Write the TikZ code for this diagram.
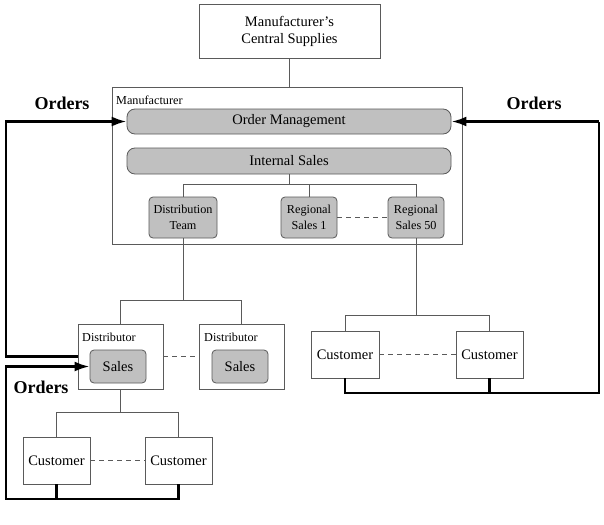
\documentclass[tikz,border=0pt]{standalone}
\usepackage{fontspec}
\setmainfont{Liberation Serif}
\usetikzlibrary{arrows.meta}
\definecolor{lc}{HTML}{5A5A5A}
\definecolor{gf}{HTML}{C0C0C0}
\begin{document}
\begin{tikzpicture}[x=1pt,y=-1pt,
  thinline/.style={draw=lc,line width=0.8pt},
  wbox/.style={thinline,fill=white,inner sep=0pt,align=center},
  gbox/.style={thinline,fill=gf,rounded corners=4pt,inner sep=0pt,align=center},
  bar/.style={thinline,fill=gf,rounded corners=8pt,inner sep=0pt,minimum width=324pt,minimum height=25pt,font=\fontsize{14.5}{16}\selectfont},
  small/.style={font=\fontsize{12.2}{15.5}\selectfont},
  big/.style={font=\fontsize{14.5}{17}\selectfont},
  dashline/.style={draw=lc,line width=0.8pt,dashed,dash pattern=on 5pt off 4pt},
  order/.style={draw=black,line width=2.6pt},
  tip/.style={-{Latex[length=15pt,width=10pt]}},
  olabel/.style={font=\fontsize{18}{20}\selectfont\bfseries,anchor=base}
]
\useasboundingbox (0,0) rectangle (604,524);

% top box
\node[wbox,big,minimum width=181pt,minimum height=54pt] (cs) at (289.5,31) {Manufacturer{\char"0027}s\\Central Supplies};

% manufacturer container
\node[wbox,minimum width=350pt,minimum height=157pt] (mfr) at (287,165.5) {};
\node[small,anchor=base west,inner sep=0pt] (mfrlbl) at (116,104) {Manufacturer};

\node[bar] (om) at (289,121.5) {Order Management};
\node[bar,minimum height=26pt] (is) at (289,161) {Internal Sales};

\node[gbox,small,minimum width=68pt,minimum height=41pt] (dt) at (183,217.5) {Distribution\\Team};
\node[gbox,small,minimum width=56pt,minimum height=41pt] (rs1) at (309,217.5) {Regional\\Sales 1};
\node[gbox,small,minimum width=56pt,minimum height=41pt] (rs50) at (416,217.5) {Regional\\Sales 50};

\coordinate (j1) at (290,184);
\draw[thinline] (cs.south) -- (cs.south |- mfr.north);
\draw[thinline] (is.south) -- (is.south |- j1);
\draw[thinline] (dt.north) -- (dt.north |- j1) -- (rs50.north |- j1) -- (rs50.north);
\draw[thinline] (rs1.north) -- (rs1.north |- j1);
\draw[dashline] (rs1.east) -- (rs50.west);

% distributors
\node[wbox,minimum width=85pt,minimum height=65pt] (d1) at (120.5,356.5) {};
\node[wbox,minimum width=85pt,minimum height=65pt] (d2) at (241.5,356.5) {};
\node[small,anchor=base west,inner sep=0pt] (d1lbl) at (82,341) {Distributor};
\node[small,anchor=base west,inner sep=0pt] (d2lbl) at (204,341) {Distributor};
\node[gbox,big,minimum width=56pt,minimum height=33pt] (s1) at (118,366.5) {Sales};
\node[gbox,big,minimum width=56pt,minimum height=33pt] (s2) at (240,366.5) {Sales};
\draw[dashline] (d1.east) -- (d2.west);

\coordinate (j2) at (0,300);
\draw[thinline] (dt.south) -- (dt.south |- j2) ;
\draw[thinline] (d1.north) -- (d1.north |- j2) -- (d2.north |- j2) -- (d2.north);

% customers under distributor
\node[wbox,big,minimum width=67pt,minimum height=47pt] (c1) at (56.5,460.5) {Customer};
\node[wbox,big,minimum width=67pt,minimum height=47pt] (c2) at (178.5,460.5) {Customer};
\draw[dashline] (c1.east) -- (c2.west);
\coordinate (j3) at (0,412);
\draw[thinline] (d1.south) -- (d1.south |- j3);
\draw[thinline] (c1.north) -- (c1.north |- j3) -- (c2.north |- j3) -- (c2.north);

% direct customers
\node[wbox,big,minimum width=68pt,minimum height=47pt] (rc1) at (345,354.5) {Customer};
\node[wbox,big,minimum width=67pt,minimum height=47pt] (rc2) at (489.5,354.5) {Customer};
\draw[dashline] (rc1.east) -- (rc2.west);
\coordinate (j4) at (0,315);
\draw[thinline] (rs50.south) -- (rs50.south |- j4);
\draw[thinline] (rc1.north) -- (rc1.north |- j4) -- (rc2.north |- j4) -- (rc2.north);

% order loops
\coordinate (xl) at (6,0);
\coordinate (xr) at (599,0);
\coordinate (yb) at (0,499);
\coordinate (yr) at (0,393);
\draw[order,tip] (d1.west) -| (xl |- om.west) -- (om.west);
\draw[order] (c1.south) -- (c1.south |- yb);
\draw[order,tip] (c2.south) -- (c2.south |- yb) -| (xl |- s1.west) -- (s1.west);
\draw[order] (rc1.south) -- (rc1.south |- yr) -- (xr |- yr) -- (xr |- om.east);
\draw[order,tip] (xr |- om.east) -- (om.east);
\draw[order] (rc2.south) -- (rc2.south |- yr);

\node[olabel] (o1) at (62,110) {Orders};
\node[olabel] (o2) at (534,110) {Orders};
\node[olabel] (o3) at (41,393) {Orders};
\end{tikzpicture}
\end{document}
